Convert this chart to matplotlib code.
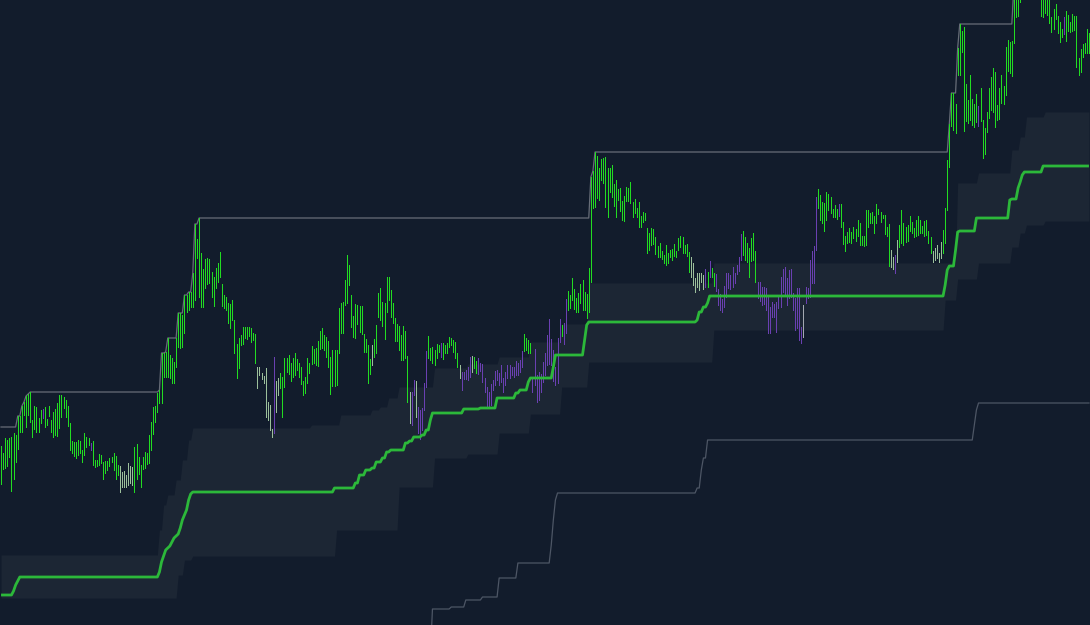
import numpy as np
import matplotlib
matplotlib.use("Agg")
import matplotlib.pyplot as plt

# bar ranges (high, low), left to right
highs = [
    179, 172, 187, 185, 187, 188, 192, 190, 209, 209, 219, 223, 229, 231, 233, 205, 219, 218, 207, 215,
    216, 218, 206, 219, 205, 213, 216, 222, 230, 230, 228, 225, 219, 202, 184, 183, 183, 185, 184, 175,
    192, 188, 187, 182, 184, 165, 165, 171, 170, 163, 164, 164, 167, 168, 172, 169, 160, 159, 153, 154,
    150, 162, 159, 158, 178, 181, 168, 160, 168, 173, 172, 190, 203, 218, 219, 232, 235,
    272, 272, 273, 287, 270, 267, 263, 287, 312, 312, 310, 330, 330, 333, 333, 352, 401, 386, 407, 372,
    356, 366, 367, 366, 353, 348, 357, 362, 373, 341, 330, 328, 322, 321, 325, 305, 281, 287, 290, 298,
    298, 298, 298, 297, 292, 291, 258, 258, 252, 249, 257, 223, 220, 196, 268, 244, 247, 252, 248, 267,
    267, 270, 262, 267, 272, 266, 262, 258, 244, 248, 267, 262, 279,
    276, 277, 284, 294, 297, 290, 288, 284, 268, 275, 275, 275, 317, 322, 323, 345, 370, 360, 330, 309,
    321, 320, 319, 319, 291, 286, 280, 266, 280, 286, 300, 332, 337, 323, 322, 348, 348, 335, 322, 307,
    301, 299, 290, 299, 294, 269, 233, 233, 245, 244, 218, 215, 217, 242, 274, 289, 277, 278, 275, 281,
    280, 282, 282, 280, 282, 288, 287, 285, 283, 272, 260, 253, 253, 255, 258,
    268, 269, 268, 264, 267, 262, 261, 247, 238, 233, 241, 245, 254, 255, 252, 260, 247, 253, 260, 260,
    258, 258, 264, 262, 265, 274, 291, 287, 285, 282, 247, 276, 250, 253, 251, 263, 272, 290, 306, 286,
    275, 258, 287, 306, 300, 302, 326, 334, 330, 347, 336, 327, 332, 341, 345, 333, 331, 357, 448, 454,
    473, 469, 457, 466, 467, 468, 457, 457, 460, 441, 445, 436, 437, 424, 429,
    438, 437, 443, 423, 426, 417, 423, 409, 413, 412, 397, 392, 397, 396, 388, 379, 382, 374, 370, 380,
    372, 375, 376, 381, 374, 387, 389, 388, 380, 381, 373, 368, 362, 347, 352, 352, 352, 350, 356, 353,
    364, 357, 352, 351, 336, 331, 326, 339, 352, 352, 350, 358, 352, 360, 368, 391, 394, 388, 382, 377,
    387, 392, 374, 343, 343, 338, 338, 337, 330, 318, 323, 321, 323,
    330, 348, 356, 358, 347, 355, 356, 332, 327, 337, 337, 298, 320, 338, 337, 365, 374, 379,
    428, 436, 430, 423, 422, 433, 431, 428, 416, 420, 416, 421, 421, 403, 389, 393, 397, 393, 398, 396,
    405, 402, 389, 389, 415, 415, 412, 413, 409, 421, 416, 413, 410, 410, 398, 401, 375, 368, 370, 385,
    400, 415, 402, 398, 400, 409, 403, 397, 405, 409, 405, 399, 404, 405, 394, 388,
    374, 377, 380, 372, 383, 395, 417, 465, 501, 532, 532, 521, 577, 601, 594, 598, 541, 525, 550, 526,
    521, 531, 519, 537, 505, 497, 513, 537, 548, 557, 553, 520, 537, 550, 539, 578, 585, 583, 584, 640,
    645, 650, 655,
    660, 664, 668, 670, 668, 665, 662, 660, 656,
    650, 648, 645, 642, 640, 608, 616, 621, 609, 603, 596, 608, 614, 610, 603, 611, 609, 609, 567, 576,
    581, 582, 596, 592,
]
lows = [
    141, 156, 157, 159, 168, 134, 146, 163, 176, 193, 193, 210, 198, 210, 203, 188, 196, 193, 193, 202,
    207, 198, 200, 209, 193, 188, 190, 189, 197, 208, 217, 208, 199, 175, 172, 169, 167, 170, 172, 163,
    170, 178, 180, 175, 160, 158, 159, 160, 162, 146, 152, 155, 159, 163, 155, 146, 150, 133, 138, 138,
    138, 140, 142, 140, 133, 146, 151, 138, 156, 157, 161, 162, 175, 191, 203, 213, 222,
    222, 248, 248, 248, 247, 242, 242, 258, 278, 277, 278, 292, 313, 315, 318, 318, 325, 367, 328, 318,
    318, 337, 341, 342, 328, 319, 337, 343, 348, 319, 317, 315, 302, 297, 305, 272, 247, 257, 280, 281,
    287, 286, 289, 283, 285, 262, 237, 250, 246, 242, 208, 205, 195, 188, 192, 213, 230, 237, 208, 238,
    253, 251, 244, 248, 250, 255, 248, 241, 230, 232, 242, 252, 261,
    262, 260, 259, 276, 277, 275, 268, 258, 231, 239, 239, 240, 272, 292, 292, 320, 322, 340, 298, 288,
    287, 301, 293, 291, 273, 273, 242, 251, 260, 268, 272, 308, 305, 299, 286, 313, 325, 308, 302, 284,
    284, 275, 265, 265, 267, 223, 202, 200, 230, 208, 192, 186, 195, 215, 238, 267, 265, 262, 260, 267,
    273, 268, 266, 272, 272, 278, 280, 273, 267, 258, 247, 235, 246, 246, 245,
    248, 253, 257, 252, 251, 254, 243, 233, 217, 217, 220, 235, 240, 245, 240, 243, 233, 240, 247, 247,
    250, 248, 250, 250, 253, 258, 274, 275, 272, 272, 233, 240, 223, 225, 233, 243, 250, 260, 261, 260,
    244, 240, 242, 283, 289, 281, 292, 315, 317, 325, 316, 313, 313, 322, 315, 315, 307, 313, 343, 417,
    418, 427, 425, 445, 442, 418, 408, 433, 428, 419, 408, 425, 414, 405, 404,
    424, 424, 422, 408, 412, 408, 398, 398, 403, 405, 372, 375, 380, 381, 371, 368, 368, 366, 362, 360,
    362, 368, 365, 369, 368, 375, 378, 372, 372, 369, 353, 348, 340, 333, 338, 335, 343, 336, 338, 338,
    348, 348, 339, 334, 320, 315, 313, 318, 328, 337, 336, 338, 342, 351, 354, 365, 370, 365, 363, 348,
    364, 365, 343, 327, 324, 320, 321, 315, 292, 292, 308, 308, 293,
    317, 318, 333, 330, 320, 327, 328, 315, 295, 297, 285, 282, 288, 322, 327, 328, 342, 342,
    375, 417, 405, 402, 394, 405, 415, 412, 408, 408, 406, 409, 398, 381, 374, 382, 383, 382, 387, 384,
    389, 380, 380, 379, 380, 398, 402, 402, 392, 402, 411, 403, 407, 391, 389, 359, 358, 356, 352, 363,
    378, 382, 380, 383, 384, 394, 392, 388, 389, 390, 392, 392, 389, 390, 382, 372,
    363, 365, 367, 363, 367, 372, 382, 415, 458, 499, 495, 492, 550, 550, 573, 494, 504, 502, 505, 500,
    498, 503, 499, 504, 467, 471, 493, 507, 515, 513, 498, 505, 506, 522, 521, 530, 554, 552, 549, 582,
    608, 609, 623,
    630, 632, 635, 638, 634, 631, 629, 628, 626,
    609, 608, 612, 610, 602, 593, 596, 606, 592, 583, 588, 591, 584, 594, 593, 594, 595, 558, 550, 553,
    568, 572, 572, 572,
]
# g = up (bright green), l = weak up (pale), p = purple, w = grey
bar_kind = (
    "ggggggggggggggggggggpggggggggggggggggggggggpggggggggggggglllllllggggggggggggg"
    "ggggggggggggggggggggggggggggggggggggggggggggggllllllllpllggggggggggggggggg"
    "gggggggggggggggggggggggggggl" "ggggggggggggggggglpplppppp" "ggggggpggggggggl" "ppppp"
    "lggppppppppppppppppppppppggggppppppppppppppgppggggggggggggggggggggggggggggg"
    "gggggggggggggggggggggggggggggglllllllpgpggppppppppppppp" "gggggggppppppppppp"
    "ppppppppppp" "w" "pppppp"
    "ggggggggggpggggggggggggggggggggggggllplggggggggggggggggl"
    "llllgggggggggggggggggpggggggggggggggggggggg"
    "ggggggggg"
    "ggggggggggpggggggggggggg"
)
kind_colors = {"g": "#22dc22", "l": "#9cc09c", "p": "#6a40b2", "w": "#a3a9b1"}

# level the grey ceiling line starts from (before first bar)
ceiling_start = 198

# stepped green trail: (level, number of bars)
trail_runs = [
    (30, 6), (34, 1), (40, 1), (44, 1), (48, 67),
    (53, 1), (63, 1), (69, 1), (75, 1), (77, 1), (79, 1), (83, 1), (87, 1), (89, 1), (91, 1),
    (97, 1), (105, 1), (110, 1), (115, 1), (125, 1), (131, 1), (133, 68),
    (137, 10), (142, 2), (150, 3), (155, 3), (157, 2), (163, 3), (167, 2), (173, 2), (175, 7),
    (182, 2), (184, 2), (188, 4), (190, 2), (195, 2), (205, 1), (212, 15), (216, 8), (217, 8),
    (227, 9), (232, 2), (235, 4), (243, 1), (247, 11), (258, 1), (270, 14), (285, 1), (300, 1),
    (303, 52), (305, 1), (313, 2), (318, 2), (322, 1), (329, 113), (340, 1), (355, 1), (359, 3),
    (375, 1), (393, 1), (394, 8), (407, 16), (425, 1), (426, 3), (437, 1), (443, 1), (450, 1),
    (453, 9), (459, 23),
]
# shaded band edges: (level, number of bars)
band_top_runs = [
    (70, 76), (95, 2), (120, 2), (130, 4), (145, 3), (165, 3), (185, 2), (197, 57), (200, 14),
    (210, 15), (215, 4), (218, 4), (227, 5), (238, 17), (257, 16), (261, 15), (268, 15), (283, 15),
    (301, 13), (342, 60), (362, 117), (442, 10), (452, 16), (475, 4), (488, 3), (508, 9), (513, 23),
]
band_bottom_runs = [
    (27, 85), (50, 3), (65, 4), (69, 69), (95, 30), (138, 17), (167, 16), (171, 15), (192, 15),
    (211, 15), (238, 13), (263, 60), (295, 111), (325, 6), (346, 10), (362, 16), (378, 4),
    (392, 3), (400, 9), (404, 23),
]
# lower grey step line: (level, number of bars)
floor_runs = [
    (-30, 207), (16, 9), (18, 7), (25, 8), (28, 8), (47, 9), (62, 16), (80, 1), (105, 1),
    (125, 1), (132, 67), (137, 2), (155, 1), (167, 2), (185, 128), (200, 1), (215, 1), (222, 54),
]


def expand(runs, n):
    vals = np.repeat([v for v, _ in runs], [c for _, c in runs]).astype(float)
    if len(vals) < n:
        vals = np.concatenate([vals, np.full(n - len(vals), vals[-1])])
    return vals[:n]


n = len(highs)
x = np.arange(n)
hi = np.array(highs, dtype=float)
lo = np.array(lows, dtype=float)
cols = [kind_colors[k] for k in bar_kind[:n].ljust(n, "g")]

ceiling = np.maximum.accumulate(np.concatenate([[ceiling_start], hi]))[1:]
trail = expand(trail_runs, n)
band_top = expand(band_top_runs, n)
band_bottom = expand(band_bottom_runs, n)
floor_line = expand(floor_runs, n)

bg = "#121c2c"
fig = plt.figure(figsize=(10.9, 6.25), dpi=100, facecolor=bg)
ax = fig.add_axes([0, 0, 1, 1])
ax.set_facecolor(bg)

ax.fill_between(x, band_bottom, band_top, color="#1c2634", linewidth=0, zorder=1)
ax.plot(x, floor_line, color="#4d5665", linewidth=0.9, zorder=2)
ax.plot(x, ceiling, color="#676d78", linewidth=0.9, zorder=2)
ax.vlines(x, lo, hi, colors=cols, linewidth=0.55, antialiased=False, zorder=3)
ax.plot(x, trail, color="#2cb83a", linewidth=2.0, zorder=4, solid_capstyle="butt")

ax.set_xlim(-0.5, n - 0.5)
ax.set_ylim(0, 625)
ax.axis("off")

plt.savefig("out.png", dpi=100, facecolor=bg)
plt.close()
